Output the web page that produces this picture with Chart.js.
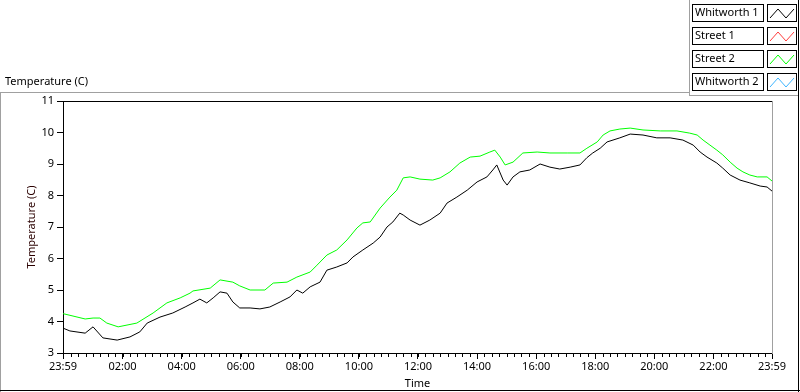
<!DOCTYPE html>
<html>
<head>
<meta charset="utf-8">
<script src="https://cdn.jsdelivr.net/npm/chart.js@4.4.1/dist/chart.umd.min.js"></script>
<style>
  html, body { margin: 0; padding: 0; background: #fff; overflow: hidden; }
</style>
</head>
<body>
<canvas id="tempChart" width="800" height="392"></canvas>
<script>
// series names / colours (legend order)
const seriesNames = ['Whitworth 1', 'Street 1', 'Street 2', 'Whitworth 2']
const seriesColors = ['#000000', '#ff3c3c', '#00ff00', '#3cb4ff']

// minutes since 23:59 and temperatures
const whitworth1Minutes = [0, 14, 45, 61, 81, 110, 136, 156, 171, 197, 223, 248, 264, 278, 292, 305, 319, 333, 345, 359, 380, 400, 420, 441, 461, 475, 487, 502, 522, 536, 556, 577, 589, 609, 630, 644, 658, 670, 684, 691, 705, 725, 745, 766, 780, 800, 821, 841, 861, 873, 881, 894, 902, 914, 928, 948, 969, 989, 1009, 1030, 1050, 1064, 1076, 1091, 1105, 1131, 1152, 1178, 1206, 1233, 1259, 1280, 1294, 1308, 1328, 1340, 1355, 1375, 1395, 1416, 1430, 1440]
const whitworth1Temps = [3.79, 3.70, 3.63, 3.83, 3.48, 3.41, 3.51, 3.67, 3.95, 4.14, 4.27, 4.46, 4.59, 4.71, 4.59, 4.75, 4.94, 4.90, 4.62, 4.43, 4.43, 4.40, 4.46, 4.62, 4.78, 5.00, 4.90, 5.10, 5.25, 5.63, 5.73, 5.86, 6.05, 6.27, 6.49, 6.68, 7.00, 7.16, 7.44, 7.38, 7.22, 7.06, 7.22, 7.44, 7.76, 7.95, 8.17, 8.43, 8.59, 8.81, 8.97, 8.49, 8.33, 8.59, 8.75, 8.81, 9.00, 8.90, 8.84, 8.90, 8.97, 9.20, 9.35, 9.50, 9.70, 9.83, 9.95, 9.92, 9.83, 9.83, 9.76, 9.60, 9.38, 9.22, 9.03, 8.87, 8.65, 8.49, 8.40, 8.30, 8.27, 8.14]

const street2Minutes = [0, 45, 61, 75, 89, 112, 150, 183, 211, 238, 258, 264, 299, 319, 345, 359, 380, 410, 427, 455, 475, 502, 516, 536, 556, 577, 597, 609, 624, 644, 664, 678, 691, 705, 725, 751, 766, 786, 806, 827, 847, 867, 877, 888, 898, 914, 934, 963, 989, 1024, 1050, 1064, 1085, 1097, 1111, 1131, 1152, 1178, 1213, 1247, 1273, 1288, 1300, 1314, 1328, 1340, 1355, 1369, 1381, 1395, 1410, 1430, 1440]
const street2Temps = [4.25, 4.08, 4.11, 4.11, 3.95, 3.83, 3.95, 4.27, 4.59, 4.75, 4.90, 4.97, 5.06, 5.32, 5.25, 5.13, 5.00, 5.00, 5.22, 5.25, 5.41, 5.57, 5.79, 6.11, 6.27, 6.59, 6.97, 7.13, 7.16, 7.60, 7.95, 8.17, 8.56, 8.59, 8.52, 8.49, 8.56, 8.75, 9.03, 9.22, 9.25, 9.38, 9.44, 9.22, 8.97, 9.06, 9.35, 9.38, 9.35, 9.35, 9.35, 9.50, 9.70, 9.92, 10.05, 10.11, 10.14, 10.08, 10.05, 10.05, 9.98, 9.92, 9.76, 9.60, 9.44, 9.29, 9.06, 8.87, 8.75, 8.65, 8.59, 8.59, 8.46]

// axis ticks
const timeTickMinutes = [0, 121, 241, 361, 481, 601, 721, 841, 961, 1081, 1201, 1321, 1440]
const timeTickLabels = ['23:59', '02:00', '04:00', '06:00', '08:00', '10:00', '12:00', '14:00', '16:00', '18:00', '20:00', '22:00', '23:59']
const tempTicks = [3, 4, 5, 6, 7, 8, 9, 10, 11]

const FONT = '"Noto Sans", "Open Sans", sans-serif'

function toPoints(xs, ys) {
    return xs.map((x, i) => ({x: x, y: ys[i]}))
}

function hline(ctx, x1, x2, y) {
    ctx.beginPath(); ctx.moveTo(x1, y); ctx.lineTo(x2, y); ctx.stroke()
}
function vline(ctx, x, y1, y2) {
    ctx.beginPath(); ctx.moveTo(x, y1); ctx.lineTo(x, y2); ctx.stroke()
}

// minor ticks, frames, titles and the LabVIEW style legend
const panelDecor = {
    id: 'panelDecor',
    afterDraw(chart) {
        const {ctx, chartArea: {top, bottom, left, right}, scales: {x}} = chart
        ctx.save()
        ctx.lineWidth = 1

        // minor time ticks every 15 min
        ctx.strokeStyle = '#000'
        for (let m = 1; m < 1440; m += 15) {
            const px = Math.round(x.getPixelForValue(m)) + 0.5
            vline(ctx, px, bottom, bottom + 4)
        }

        // plot frame: top black, right grey
        hline(ctx, left, right + 1, top + 0.5)
        ctx.strokeStyle = '#a0a0a0'
        vline(ctx, right + 0.5, top, bottom + 1)

        // outer panel
        ctx.strokeStyle = '#a0a0a0'
        hline(ctx, 0, 690, 92.5)
        vline(ctx, 689.5, 0, 96)
        hline(ctx, 689, 798, 95.5)
        vline(ctx, 0.5, 92, 392)
        ctx.strokeStyle = '#000'
        hline(ctx, 0, 800, 390.5)
        vline(ctx, 798.5, 0, 392)

        // titles
        ctx.fillStyle = '#000'
        ctx.font = '11px ' + FONT
        ctx.textBaseline = 'middle'
        ctx.textAlign = 'left'
        ctx.fillText('Temperature (C)', 5, 82)
        ctx.textAlign = 'center'
        ctx.fillText('Time', (left + right) / 2, 384)
        ctx.save()
        ctx.translate(32, (top + bottom) / 2)
        ctx.rotate(-Math.PI / 2)
        ctx.fillStyle = '#2a0000'
        ctx.fillText('Temperature (C)', 0, 0)
        ctx.restore()

        // legend
        chart.data.datasets.forEach((ds, i) => {
            const y = 4 + i * 23
            ctx.fillStyle = '#fff'
            ctx.fillRect(692, y, 71, 17)
            ctx.strokeStyle = '#000'
            ctx.strokeRect(692.5, y + 0.5, 71, 17)
            ctx.fillStyle = '#000'
            ctx.textAlign = 'left'
            ctx.fillText(ds.label, 695, y + 9)
            ctx.strokeRect(767.5, y + 0.5, 29, 17)
            ctx.strokeStyle = ds.borderColor
            ctx.beginPath()
            ctx.moveTo(770, y + 14)
            ctx.lineTo(778, y + 5)
            ctx.lineTo(786, y + 14)
            ctx.lineTo(794, y + 5)
            ctx.stroke()
        })
        ctx.restore()
    }
}

const datasets = [
    {label: seriesNames[0], data: toPoints(whitworth1Minutes, whitworth1Temps), borderColor: seriesColors[0]},
    {label: seriesNames[1], data: [], borderColor: seriesColors[1]},
    {label: seriesNames[2], data: toPoints(street2Minutes, street2Temps), borderColor: seriesColors[2]},
    {label: seriesNames[3], data: [], borderColor: seriesColors[3]}
].map(d => Object.assign(d, {borderWidth: 1, pointRadius: 0, tension: 0, fill: false}))

new Chart(document.getElementById('tempChart'), {
    type: 'line',
    data: {datasets: datasets},
    options: {
        responsive: false,
        animation: false,
        layout: {padding: {top: 101, right: 28, left: 0, bottom: 0}},
        plugins: {legend: {display: false}, tooltip: {enabled: false}},
        scales: {
            x: {
                type: 'linear',
                min: 0,
                max: 1440,
                afterFit(scale) { scale.height = 39 },
                afterBuildTicks(scale) { scale.ticks = timeTickMinutes.map(v => ({value: v})) },
                ticks: {
                    autoSkip: false,
                    maxRotation: 0,
                    padding: 1,
                    color: '#000',
                    font: {family: FONT, size: 11},
                    callback: (v) => timeTickLabels[timeTickMinutes.indexOf(v)]
                },
                grid: {drawOnChartArea: false, tickLength: 6, color: '#000'},
                border: {color: '#000'}
            },
            y: {
                min: 3,
                max: 11,
                afterFit(scale) { scale.width = 63 },
                afterBuildTicks(scale) { scale.ticks = tempTicks.map(v => ({value: v})) },
                ticks: {
                    padding: 3,
                    color: '#000',
                    font: {family: FONT, size: 11}
                },
                grid: {drawOnChartArea: false, tickLength: 6, color: '#000'},
                border: {color: '#000'}
            }
        }
    },
    plugins: [panelDecor]
})
</script>
</body>
</html>
